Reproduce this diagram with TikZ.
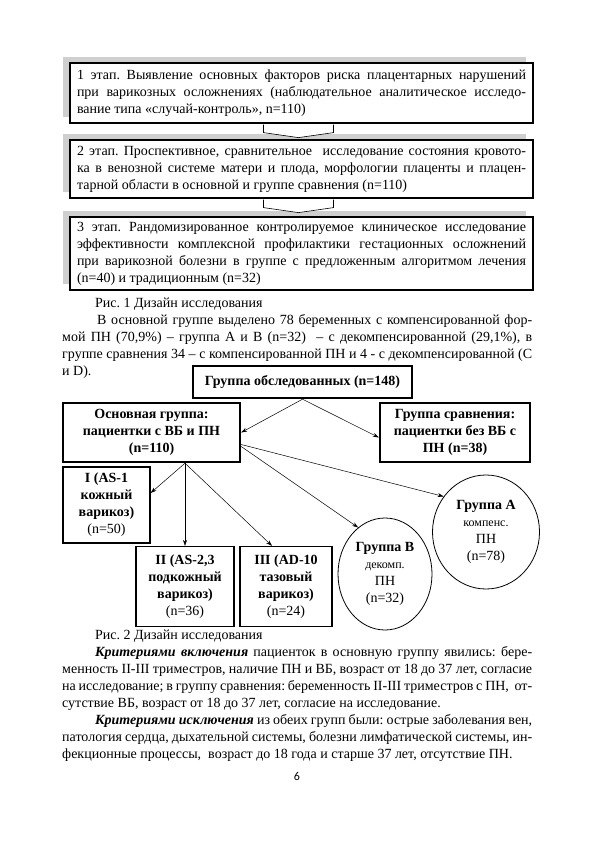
\documentclass[tikz,border=0pt]{standalone}
\usepackage{fontspec}
\setmainfont{Liberation Serif}
\newfontfamily\pagenumfont{Carlito}
\usepackage{tikz}
\usetikzlibrary{positioning,arrows.meta,shapes.geometric,calc,shadows}
\frenchspacing

\tikzset{
  stagebox/.style={draw, fill=white, line width=1.2pt, text width=449pt, align=justify,
    inner xsep=7pt, inner ysep=3pt, font=\fontsize{14}{17}\selectfont,
    general shadow={shadow xshift=-7pt, shadow yshift=6pt, fill=gray!38}},
  stagearrow/.style={draw, fill=white, line width=0.6pt},
  groupbox/.style={draw, line width=2.4pt, align=center, inner sep=2pt,
    font=\bfseries\fontsize{14}{17}\selectfont},
  typebox/.style={draw, line width=1.3pt, align=center, inner sep=2pt,
    font=\fontsize{14}{17}\selectfont},
  groupcirc/.style={draw, ellipse, line width=0.8pt, align=center, inner sep=0pt,
    font=\fontsize{14}{17}\selectfont},
  arr/.style={line width=0.5pt, -{Stealth[length=6pt,width=4pt]}},
  bodytext/.style={anchor=north west, text width=470pt, align=justify, inner sep=0pt,
    font=\fontsize{14}{17}\selectfont}
}

\begin{document}
\begin{tikzpicture}[x=1pt, y=-1pt]
  % page: 594 x 842, y grows downwards
  \path[use as bounding box, fill=white] (0,0) rectangle (594,842);
  \def\smallfont{\fontsize{12}{15}\selectfont}

  % --- Fig. 1: three stages ---
  \node[stagebox, minimum height=60pt] (s1) at (301.5,93) {1 этап. Выявление основных факторов риска плацентарных нарушений\linebreak при варикозных осложнениях (наблюдательное аналитическое исследо-\linebreak вание типа «случай-контроль», n=110)};
  \node[stagebox, minimum height=58pt] (s2) at (301.5,169) {2 этап. Проспективное, сравнительное~ исследование состояния кровото-\linebreak ка в венозной системе матери и плода, морфологии плаценты и плацен-\linebreak тарной области в основной и группе сравнения (n=110)};
  \node[stagebox, minimum height=73pt] (s3) at (301.5,253.5) {3 этап. Рандомизированное контролируемое клиническое исследование\linebreak эффективности комплексной профилактики гестационных осложнений\linebreak при варикозной болезни в группе с предложенным алгоритмом лечения\linebreak (n=40) и традиционным (n=32)};
  % block arrows between stages
  \foreach \a in {s1,s2} {
    \draw[stagearrow] ($(\a.south)+(-38,1)$) -- ++(0,8) -- ($(\a.south)+(-3,14)$)
      -- ($(\a.south)+(32,9)$) -- ($(\a.south)+(32,1)$);
  }

  % --- text between the figures ---
  \node[bodytext] (p1) at (62,298) {\hspace*{33pt}Рис. 1 Дизайн исследования\par
    \hspace*{35pt}В основной группе выделено 78 беременных с компенсированной фор-\linebreak мой ПН (70,9\%) – группа А и В (n=32)~ – с декомпенсированной (29,1\%), в\linebreak группе сравнения 34 – с компенсированной ПН и 4 - с декомпенсированной (С\linebreak и D).};

  % --- Fig. 2: groups ---
  \node[groupbox, minimum width=219pt, minimum height=32pt] (all) at (302.5,382) {Группа обследованных (n=148)};
  \node[groupbox, minimum width=177pt, minimum height=59pt] (main) at (151.5,432.5) {Основная группа:\\пациентки с ВБ и ПН\\(n=110)};
  \node[groupbox, minimum width=150pt, minimum height=59pt] (cmp) at (455,432.5) {Группа сравнения:\\пациентки без ВБ с\\ПН (n=38)};
  \node[typebox, minimum width=87pt, minimum height=76pt] (t1) at (106.5,505) {\textbf{I (AS-1}\\\textbf{кожный}\\\textbf{варикоз)}\\(n=50)};
  \node[typebox, minimum width=98pt, minimum height=80pt] (t2) at (185,586.5) {\textbf{II (AS-2,3}\\\textbf{подкожный}\\\textbf{варикоз)}\\(n=36)};
  \node[typebox, minimum width=92pt, minimum height=80pt] (t3) at (286,586.5) {\textbf{III (AD-10}\\\textbf{тазовый}\\\textbf{варикоз)}\\(n=24)};
  \node[groupcirc, minimum width=107pt, minimum height=114pt] (ga) at (486,532) {\textbf{Группа A}\\{\smallfont компенс.}\\ПН\\(n=78)};
  \node[groupcirc, minimum width=94pt, minimum height=112pt] (gb) at (385,574) {\textbf{Группа B}\\{\smallfont декомп.}\\ПН\\(n=32)};
  % connectors
  \coordinate (split) at (main.south -| t2.north);
  \draw[arr] (all.south) -- (main.east);
  \draw[arr] (all.south) -- ([yshift=-5pt]cmp.west);
  \draw[arr] ([yshift=-12pt]main.east) -- (ga.140);
  \draw[arr] ([yshift=-14pt]main.east) -- (gb.120);
  \draw[arr] (split) -- ([yshift=12pt]t1.east);
  \draw[arr] (split) -- (t2.north);
  \draw[arr] (split) -- ([xshift=-14pt]t3.north);

  % --- caption and criteria ---
  \node[bodytext] (p2) at (62,630) {\hspace*{33pt}Рис. 2 Дизайн исследования\par
    \hspace*{33pt}\textbf{\textit{Критериями включения}} пациенток в основную группу явились: бере-\linebreak менность II-III триместров, наличие ПН и ВБ, возраст от 18 до 37 лет, согласие\linebreak на исследование; в группу сравнения: беременность II-III триместров с ПН,~ от-\linebreak сутствие ВБ, возраст от 18 до 37 лет, согласие на исследование.\par
    \hspace*{33pt}\textbf{\textit{Критериями исключения}} из обеих групп были: острые заболевания вен,\linebreak патология сердца, дыхательной системы, болезни лимфатической системы, ин-\linebreak фекционные процессы,~ возраст до 18 года и старше 37 лет, отсутствие ПН.};
  \node[font=\pagenumfont\fontsize{12}{14}\selectfont] (pnum) at (297,776) {6};
\end{tikzpicture}
\end{document}
